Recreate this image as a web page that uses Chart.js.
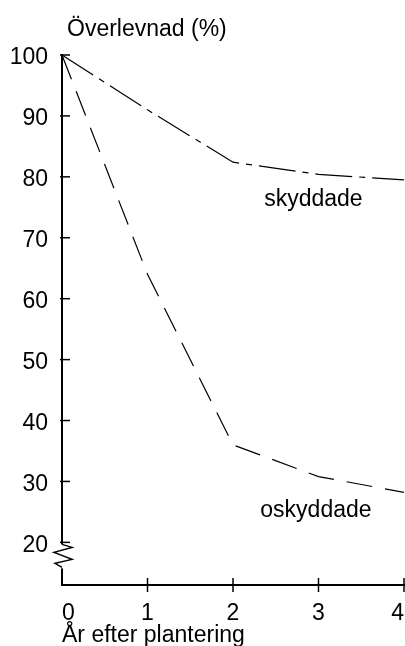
<!DOCTYPE html>
<html>
<head>
<meta charset="utf-8">
<script src="https://cdn.jsdelivr.net/npm/chart.js@4/dist/chart.umd.min.js"></script>
<style>
  body { margin: 0; background: #fff; }
  #wrap { width: 405px; height: 646px; position: relative; }
</style>
</head>
<body>
<div id="wrap"><canvas id="survivalChart"></canvas></div>
<script>
// Överlevnad efter plantering
const years = [0, 1, 2, 3, 4];
const skyddade = [100, 91, 82.4, 80.4, 79.5];
const oskyddade = [100, 64, 36, 30.8, 28.2];
const yTicks = [20, 30, 40, 50, 60, 70, 80, 90, 100];
const yTitle = 'Överlevnad (%)';
const xTitle = 'År efter plantering';
const seriesNames = ['skyddade', 'oskyddade'];

const FONT = '"Liberation Sans", Arial, sans-serif';

// ticks crossing the axes, axis break and the text labels
const decorations = {
    id: 'decorations',
    afterDraw(chart) {
        const ctx = chart.ctx;
        const x = chart.scales.x;
        const y = chart.scales.y;
        const x0 = x.left;
        ctx.save();
        ctx.strokeStyle = '#000';
        ctx.lineWidth = 1.5;
        yTicks.forEach(v => {
            const py = y.getPixelForValue(v);
            ctx.beginPath();
            ctx.moveTo(x0 - 2, py);
            ctx.lineTo(x0 + 8, py);
            ctx.stroke();
        });
        years.slice(1).forEach(v => {
            const px = x.getPixelForValue(v);
            ctx.beginPath();
            ctx.moveTo(px, y.bottom - 7);
            ctx.lineTo(px, y.bottom + 7);
            ctx.stroke();
        });

        // axis break
        const b = y.getPixelForValue(20) + 2;
        ctx.fillStyle = '#fff';
        ctx.fillRect(x0 - 3, b, 6, 24);
        ctx.beginPath();
        ctx.moveTo(x0, b);
        ctx.lineTo(x0 + 10, b + 3);
        ctx.lineTo(x0 - 8, b + 8);
        ctx.lineTo(x0 + 10, b + 15);
        ctx.lineTo(x0 - 7, b + 19);
        ctx.lineTo(x0, b + 23);
        ctx.stroke();

        ctx.fillStyle = '#000';
        ctx.font = '23px ' + FONT;
        ctx.textAlign = 'left';
        ctx.textBaseline = 'alphabetic';
        ctx.fillText(yTitle, x0 + 5, y.top - 19);

        ctx.textAlign = 'center';
        ctx.textBaseline = 'middle';
        ctx.fillText(seriesNames[0], x.getPixelForValue(2.94), y.getPixelForValue(76.2));
        ctx.fillText(seriesNames[1], x.getPixelForValue(2.97), y.getPixelForValue(25.2));
        ctx.restore();
    }
};

const ctx = document.getElementById('survivalChart').getContext('2d');
new Chart(ctx, {
    type: 'line',
    data: {
        labels: years,
        datasets: [{
            label: seriesNames[0],
            data: skyddade,
            borderColor: '#000',
            borderWidth: 1.2,
            borderDash: [37, 7, 6, 7],
            pointRadius: 0,
            fill: false,
            tension: 0
        }, {
            label: seriesNames[1],
            data: oskyddade,
            borderColor: '#000',
            borderWidth: 1.2,
            borderDash: [26, 13],
            pointRadius: 0,
            fill: false,
            tension: 0
        }]
    },
    options: {
        responsive: true,
        maintainAspectRatio: false,
        animation: false,
        layout: { padding: { top: 55, right: 1, left: 0, bottom: 0 } },
        plugins: { legend: { display: false }, tooltip: { enabled: false } },
        scales: {
            x: {
                type: 'linear',
                min: 0,
                max: 4,
                grid: { display: false, drawTicks: false },
                border: { display: true, color: '#000', width: 2 },
                afterBuildTicks: s => { s.ticks = years.map(v => ({ value: v })); },
                afterFit: s => {
                    s.height = 61;
                    s.paddingLeft = 0;
                    s.paddingRight = 0;
                },
                ticks: {
                    color: '#000',
                    font: { family: FONT, size: 23 },
                    padding: 15,
                    align: 'inner',
                    maxRotation: 0,
                    autoSkip: false
                },
                title: {
                    display: true,
                    text: xTitle,
                    align: 'start',
                    color: '#000',
                    font: { family: FONT, size: 23, lineHeight: 1.2 },
                    padding: { top: 0, bottom: -3 }
                }
            },
            y: {
                min: 13,
                max: 100,
                grid: { display: false, drawTicks: false },
                border: { display: true, color: '#000', width: 2 },
                afterBuildTicks: s => { s.ticks = yTicks.map(v => ({ value: v })); },
                afterFit: s => {
                    s.width = 62;
                    s.paddingTop = 0;
                    s.paddingBottom = 0;
                },
                ticks: {
                    color: '#000',
                    font: { family: FONT, size: 23 },
                    padding: 14,
                    labelOffset: 3
                }
            }
        }
    },
    plugins: [decorations]
});
</script>
</body>
</html>
